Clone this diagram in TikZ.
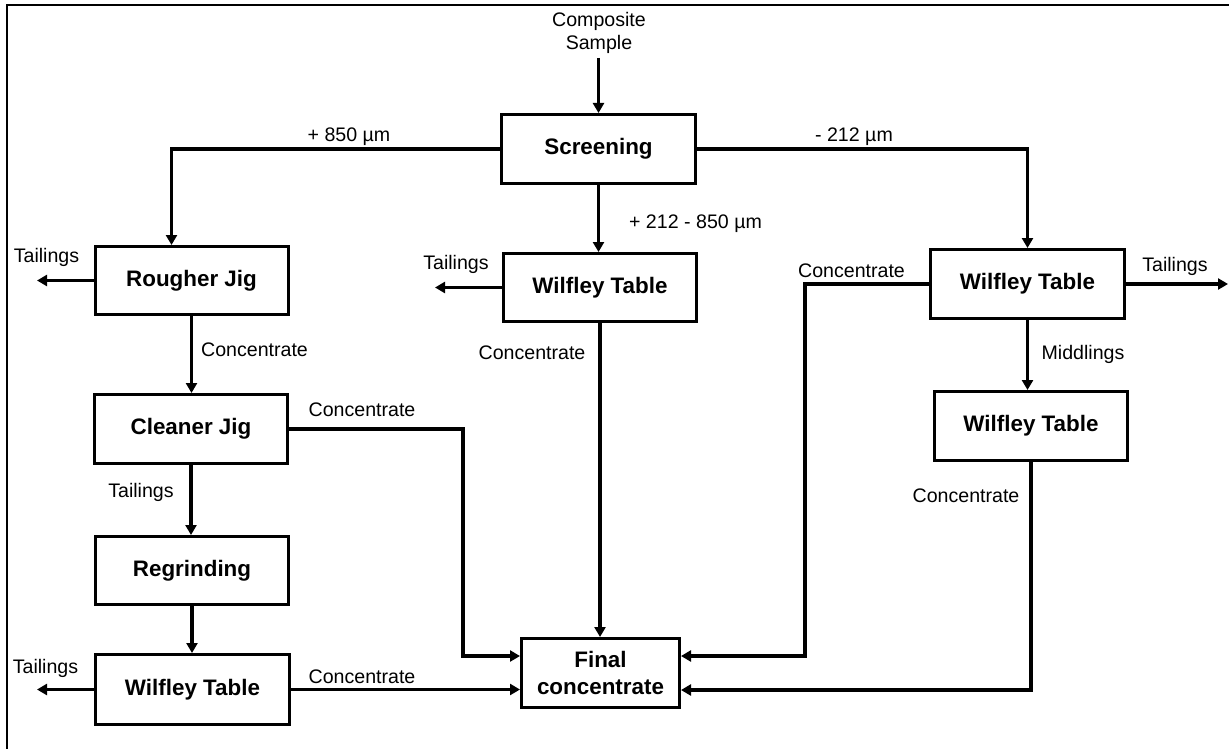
\documentclass[tikz,border=0pt]{standalone}
\usepackage{fontspec}
\setmainfont{Liberation Sans}
\usetikzlibrary{arrows.meta}
\begin{document}
\begin{tikzpicture}[x=1pt,y=-1pt,
  proc/.style={draw,line width=3pt,inner sep=0pt,font=\fontsize{22.4}{27}\selectfont\bfseries,align=center},
  lbl/.style={inner sep=0pt,font=\fontsize{19.6}{23}\selectfont,text height=14pt,text depth=0pt},
  arr/.style={line width=3.5pt,-{Triangle[length=10pt,width=11pt]}},
  ln/.style={line width=3.5pt}]
\useasboundingbox (0,0) rectangle (1229,749);
\draw[line width=2pt] (7,749) -- (7,5) -- (1229,5);
% boxes
\node[proc,minimum width=194pt,minimum height=69pt] (scr) at (598.5,149) {Screening};
\node[proc,minimum width=193pt,minimum height=68pt] (rough) at (191.5,280.5) {Rougher Jig};
\node[proc,minimum width=193pt,minimum height=68pt] (wmid) at (600,287.5) {Wilfley Table};
\node[proc,minimum width=194pt,minimum height=69pt] (wr1) at (1027.5,284) {Wilfley Table};
\node[proc,minimum width=193pt,minimum height=69pt] (wr2) at (1031,426) {Wilfley Table};
\node[proc,minimum width=193pt,minimum height=69pt] (clean) at (191,429) {Cleaner Jig};
\node[proc,minimum width=193pt,minimum height=68pt] (regr) at (192,570.5) {Regrinding};
\node[proc,minimum width=194pt,minimum height=70pt] (wbl) at (192.5,689.5) {Wilfley Table};
\node[proc,minimum width=158pt,minimum height=69pt] (final) at (600.5,673) {Final\\concentrate};
% input
\node[inner sep=0pt,font=\fontsize{19.6}{23}\selectfont,align=center] (comp) at (599,33) {Composite\\Sample};
\coordinate (compend) at (598.5,58);
\draw[arr] (compend) -- (scr.north);
% free ends
\coordinate (t1) at (37,280.5);
\coordinate (t2) at (435,287.5);
\coordinate (t3) at (1228,284);
\coordinate (t4) at (37,689.5);
\coordinate (c1) at (805,284);
\coordinate (c2) at (1031,690);
\coordinate (c3) at (463,429);
% connectors
\draw[arr] (scr.west) -| ([xshift=-20pt]rough.north);
\draw[arr] (scr.east) -| (wr1.north);
\draw[arr] (scr.south) -- (scr.south |- wmid.north);
\draw[arr] (rough.west) -- (t1);
\draw[arr] (wmid.west) -- (t2);
\draw[arr] (wr1.east) -- (t3);
\draw[arr] (wr1.west) -- (c1) |- ([yshift=17pt]final.east);
\draw[arr] (wr1.south) -- (wr1.south |- wr2.north);
\draw[arr] (wr2.south) -- (c2) -- ([yshift=-17pt]final.east);
\draw[arr] (wmid.south) -- (wmid.south |- final.north);
\draw[arr] (rough.south) -- (rough.south |- clean.north);
\draw[arr] (clean.east) -- (c3) |- ([yshift=17pt]final.west);
\draw[arr] (clean.south) -- (clean.south |- regr.north);
\draw[arr] (regr.south) -- (regr.south |- wbl.north);
\draw[arr] (wbl.west) -- (t4);
\draw[arr] (wbl.east) -- (wbl.east -| final.west);
% labels
\node[lbl] (l1) at (349,135) {+ 850 µm};
\node[lbl] (l2) at (695.5,221) {+ 212 - 850 µm};
\node[lbl] (l3) at (854,135) {- 212 µm};
\node[lbl] (l4) at (46.5,255) {Tailings};
\node[lbl] (l5) at (456,262) {Tailings};
\node[lbl] (l6) at (1175,264) {Tailings};
\node[lbl] (l7) at (851.5,270) {Concentrate};
\node[lbl] (l8) at (1083,352) {Middlings};
\node[lbl] (l9) at (532,352) {Concentrate};
\node[lbl] (l10) at (254.5,349) {Concentrate};
\node[lbl] (l11) at (362,409) {Concentrate};
\node[lbl] (l12) at (141,490) {Tailings};
\node[lbl] (l13) at (966,495) {Concentrate};
\node[lbl] (l14) at (45.5,666) {Tailings};
\node[lbl] (l15) at (362,676) {Concentrate};
\end{tikzpicture}
\end{document}
